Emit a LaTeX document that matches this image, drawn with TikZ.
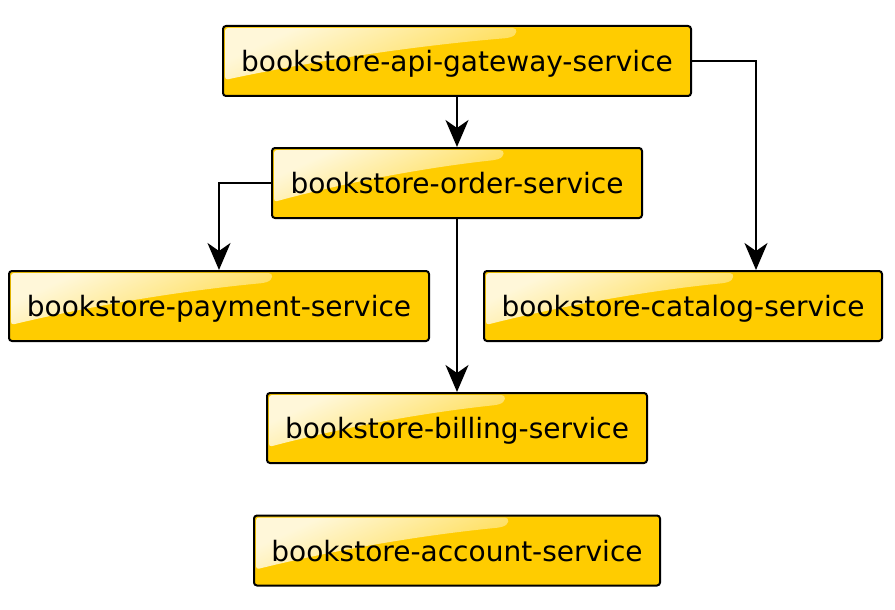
\documentclass[tikz,border=0pt]{standalone}
\usepackage{fontspec}
\setmainfont{DejaVu Sans}
\usetikzlibrary{calc,arrows.meta}
\definecolor{gold}{HTML}{FFCC00}
\tikzset{
  svc/.style={draw=black, line width=2pt, rounded corners=3pt, fill=gold,
    inner sep=0pt, font=\fontsize{28}{30}\selectfont, text=black,
    text height=21pt, text depth=0pt,
    minimum height=70pt, minimum width=#1,
    path picture={
      \fill[top color=gold!15!white, bottom color=gold!96!white, middle color=gold!62!white, shading angle=25]
        let \p1=(path picture bounding box.north west),
            \p2=(path picture bounding box.south east),
            \n1={\x1+0.63*(\x2-\x1)},
            \n2={\y1-\y2},
            \n3={\n1-\x1}
        in (\x1+2pt,\y1-2pt) -- (\n1-8pt,\y1-2pt)
           .. controls (\n1,\y1-2pt) and (\n1,\y1-9pt) .. (\n1-10pt,\y1-12pt)
           .. controls (\x1+0.6*\n3,\y1-0.3*\n2) and (\x1+0.25*\n3,\y1-0.55*\n2) .. (\x1+2pt,\y1-0.77*\n2)
           -- cycle;
    }},
  conn/.style={line width=2pt, -{Stealth[length=27pt,width=23pt,inset=8pt]}}
}
\begin{document}
\begin{tikzpicture}[x=1pt,y=-1pt]
\useasboundingbox (0,0) rectangle (895,610);
\node[svc=468pt] (gw) at (457,61) {bookstore-api-gateway-service};
\node[svc=370pt] (order) at (457,183) {bookstore-order-service};
\node[svc=420pt] (pay) at (219,306) {bookstore-payment-service};
\node[svc=398pt] (cat) at (683,306) {bookstore-catalog-service};
\node[svc=380pt] (bill) at (457,428) {bookstore-billing-service};
\node[svc=406pt] (acct) at (457,550.5) {bookstore-account-service};
\coordinate (gc) at (756,61);
\draw[conn] (gw.south) -- (order.north);
\draw[conn] (gw.east) -- (gc) -- (gc |- cat.north);
\draw[conn] (order.west) -| (pay.north);
\draw[conn] (order.south) -- (bill.north);
\end{tikzpicture}
\end{document}
